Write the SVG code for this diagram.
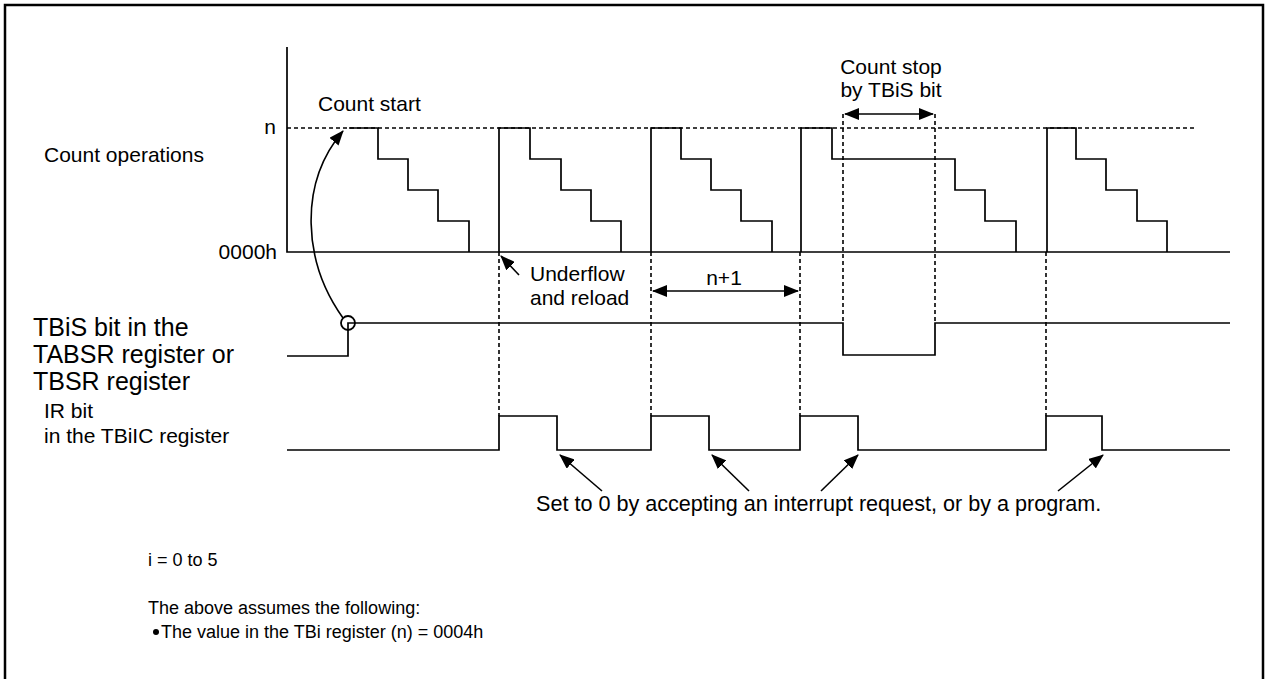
<svg xmlns="http://www.w3.org/2000/svg" width="1266" height="679" viewBox="0 0 1266 679">
<style>
  .ln { fill: none; stroke: #000; stroke-width: 1.7; }
  .ds { fill: none; stroke: #000; stroke-width: 1.6; stroke-dasharray: 4 3; }
  .ar { fill: none; stroke: #000; stroke-width: 1.6; }
  text { font-family: "Liberation Sans", Arial, sans-serif; fill: #000; }
  .t21 { font-size: 21px; }
  .t25 { font-size: 25px; }
  .tn { font-size: 18px; }
  .mid { text-anchor: middle; }
  .end { text-anchor: end; }
</style>
<defs>
  <marker id="ahs" markerWidth="15" markerHeight="12" refX="14" refY="6" orient="auto-start-reverse" markerUnits="userSpaceOnUse">
    <path d="M0,0 L15,6 L0,12 z" fill="#000"/>
  </marker>
  <marker id="ahb" markerWidth="15" markerHeight="12" refX="14" refY="6" orient="auto" markerUnits="userSpaceOnUse">
    <path d="M0,0 L15,6 L0,12 z" fill="#000"/>
  </marker>
</defs>

<!-- frame -->
<path d="M5,690 V5 H1263 V690" fill="none" stroke="#000" stroke-width="2.5"/>

<!-- labels -->
<g id="label-count-ops">
  <text class="t21" x="44" y="162">Count operations</text>
  <text class="t21 end" x="276" y="134">n</text>
  <text class="t21 end" x="277" y="259">0000h</text>
</g>
<g id="label-tbis">
  <text class="t25" x="33" y="336">TBiS bit in the</text>
  <text class="t25" x="33" y="363">TABSR register or</text>
  <text class="t25" x="33" y="390">TBSR register</text>
</g>
<g id="label-ir">
  <text class="t21" x="44" y="418">IR bit</text>
  <text class="t21" x="44" y="443">in the TBiIC register</text>
</g>
<g id="label-count-start">
  <text class="t21" x="318" y="111">Count start</text>
</g>
<g id="label-count-stop">
  <text class="t21 mid" x="891" y="74">Count stop</text>
  <text class="t21 mid" x="891" y="97">by TBiS bit</text>
</g>
<g id="label-underflow">
  <text class="t21" x="530" y="281">Underflow</text>
  <text class="t21" x="530" y="305">and reload</text>
</g>
<g id="label-n1">
  <text class="t21 mid" x="724" y="285">n+1</text>
</g>
<g id="label-set0">
  <text class="t21" x="536" y="511" style="font-size:21.6px">Set to 0 by accepting an interrupt request, or by a program.</text>
</g>
<g id="notes">
  <text class="tn" x="148" y="566">i = 0 to 5</text>
  <text class="tn" x="148" y="614">The above assumes the following:</text>
  <circle cx="156" cy="632" r="3" fill="#000"/>
  <text class="tn" x="161" y="638">The value in the TBi register (n) = 0004h</text>
</g>

<!-- count operations waveform -->
<g id="count-waveform">
  <path class="ln" d="M287,47 V252 H1230"/>
  <path class="ds" d="M287,128 H1197"/>
  <path class="ln" d="M349,128 H378 V159 H408 V190 H438 V221 H469 V252"/>
  <path class="ln" d="M499,252 V128 H530 V159 H561 V190 H591 V221 H621 V252"/>
  <path class="ln" d="M651,252 V128 H681 V159 H711 V190 H741 V221 H772 V252"/>
  <path class="ln" d="M801,252 V128 H832 V159 H955 V190 H985 V221 H1016 V252"/>
  <path class="ln" d="M1047,252 V128 H1076 V159 H1106 V190 H1137 V221 H1167 V252"/>
</g>

<!-- TBiS waveform -->
<g id="tbis-waveform">
  <path class="ln" d="M287,356 H348 V323 H843 V355 H935 V323 H1230"/>
  <circle cx="348" cy="323" r="7" fill="none" stroke="#000" stroke-width="1.8"/>
</g>

<!-- IR waveform -->
<g id="ir-waveform">
  <path class="ln" d="M287,450 H499 V416 H557 V450 H651 V416 H709 V450 H800 V416 H858 V450 H1046 V416 H1102 V450 H1230"/>
</g>

<!-- connectors -->
<g id="connectors">
  <path class="ds" d="M499,252 V416"/>
  <path class="ds" d="M651,252 V416"/>
  <path class="ds" d="M800,252 V416"/>
  <path class="ds" d="M1046,252 V416"/>
  <path class="ds" d="M843,114 V323"/>
  <path class="ds" d="M935,114 V323"/>
  <path class="ar" d="M343,318 C303,262 298,184 343,131" marker-end="url(#ahb)"/>
  <path class="ar" d="M519,275 L501,256" marker-end="url(#ahb)"/>
  <path class="ar" d="M653,291 H798" marker-start="url(#ahs)" marker-end="url(#ahs)"/>
  <path class="ar" d="M845,114 H933" marker-start="url(#ahs)" marker-end="url(#ahs)"/>
  <path class="ar" d="M602,491 L560,455" marker-end="url(#ahb)"/>
  <path class="ar" d="M749,491 L712,455" marker-end="url(#ahb)"/>
  <path class="ar" d="M821,491 L858,455" marker-end="url(#ahb)"/>
  <path class="ar" d="M1058,491 L1103,455" marker-end="url(#ahb)"/>
</g>
</svg>
